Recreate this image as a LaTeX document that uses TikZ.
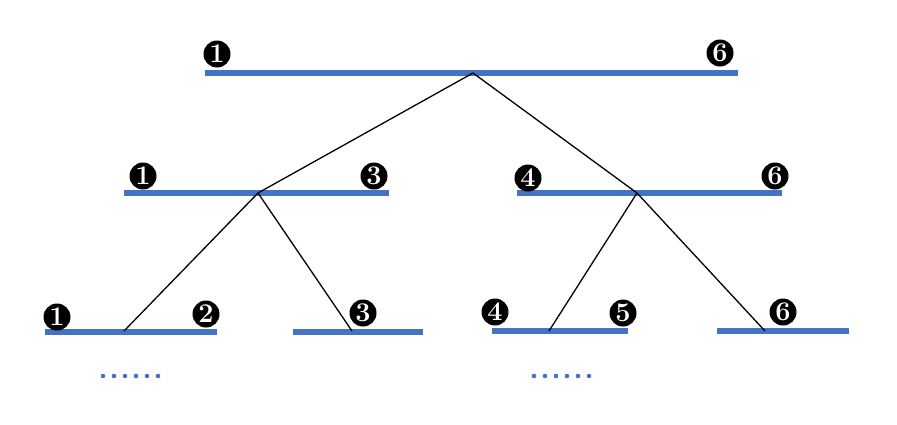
\documentclass[tikz,border=0pt]{standalone}
\usepackage{fontspec}
\usepackage{xcolor}
\definecolor{barblue}{HTML}{4472C4}
\begin{document}
\begin{tikzpicture}[x=1pt,y=-1pt,
  bar/.style={draw=barblue,line width=6pt},
  conn/.style={draw=black,line width=1.3pt},
  num/.style={circle,fill=black,text=white,inner sep=0pt,minimum size=27pt,font=\fontsize{27}{27}\selectfont\bfseries},
  dotmark/.style={fill=barblue,draw=none}]
\useasboundingbox (0,0) rectangle (897,424);
% bars
\coordinate (t) at (473,73);
\coordinate (ml) at (258,193);
\coordinate (mr) at (637,193);
\coordinate (b1) at (124,331);
\coordinate (b2) at (352,331);
\coordinate (b3) at (549,331);
\coordinate (b4) at (765,331);
\draw[bar] (205,73) -- (738,73);
\draw[bar] (124,193) -- (389,193);
\draw[bar] (517,193) -- (782,193);
\draw[bar] (45,332) -- (217,332);
\draw[bar] (293,332) -- (423,332);
\draw[bar] (492,331) -- (628,331);
\draw[bar] (717,331) -- (849,331);
% connectors
\draw[conn] (t) -- (ml);
\draw[conn] (t) -- (mr);
\draw[conn] (ml) -- (b1);
\draw[conn] (ml) -- (b2);
\draw[conn] (mr) -- (b3);
\draw[conn] (mr) -- (b4);
% labels
\node[num] (n1) at (217,54) {1};
\node[num] (n6) at (720,53) {6};
\node[num] (m1) at (143,176) {1};
\node[num] (m3) at (374,176) {3};
\node[num] (m4) at (528,178) {4};
\node[num] (m6) at (775,176) {6};
\node[num] (l1) at (57,317) {1};
\node[num] (l2) at (206,314) {2};
\node[num] (l3) at (363,313) {3};
\node[num] (l4) at (495,312) {4};
\node[num] (l5) at (623,313) {5};
\node[num] (l6) at (783,312) {6};
% dots
\foreach \i in {0,...,5} {
  \fill[dotmark] (103+11*\i,376) circle (2.3);
  \fill[dotmark] (534+11*\i,376) circle (2.3);
}
\end{tikzpicture}
\end{document}
